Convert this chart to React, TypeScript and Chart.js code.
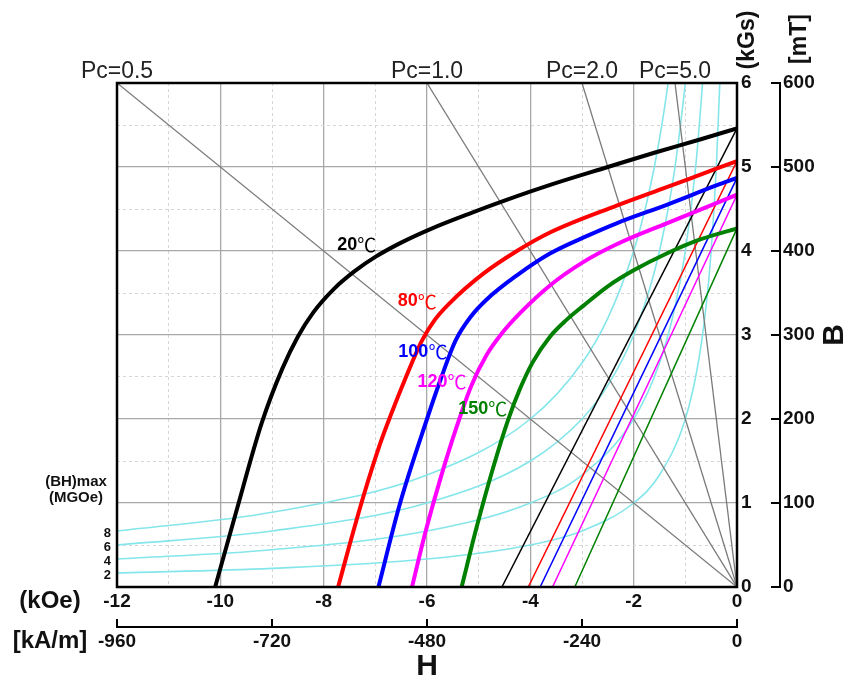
import React, { useEffect, useRef } from 'react';
import { Chart, registerables } from 'chart.js';

Chart.register(...registerables);

// ---------- axes ----------
const H_KOE_MIN = -12;
const H_KOE_MAX = 0;
const H_KOE_STEP = 2;
const H_KAM_MIN = -960;
const H_KAM_MAX = 0;
const H_KAM_STEP = 240;
const B_KGS_MIN = 0;
const B_KGS_MAX = 6;
const B_KGS_STEP = 1;
const B_MT_MIN = 0;
const B_MT_MAX = 600;
const B_MT_STEP = 100;

// ---------- demagnetization curves (H in kOe, B in kGs) ----------
const temps = ['20', '80', '100', '120', '150'];
const curveColors = ['#000000', '#ff0000', '#0000ff', '#ff00ff', '#008000'];

const h20 = [-10.1, -9.7, -9.2, -8.8, -8.5, -8.2, -7.8, -7.4, -7.0, -6.5, -5.9, -5.2, -4.5, -3.6, -2.5, -1.6, -0.7, 0];
const b20 = [0, 0.88, 1.95, 2.6, 2.98, 3.27, 3.55, 3.76, 3.93, 4.1, 4.27, 4.44, 4.6, 4.79, 5.0, 5.17, 5.33, 5.46];

const h80 = [-7.72, -7.49, -7.23, -6.91, -6.68, -6.44, -6.1, -5.85, -5.56, -4.91, -4.26, -3.62, -2.33, -1.36, -0.4, 0];
const b80 = [0, 0.52, 1.08, 1.7, 2.08, 2.45, 2.93, 3.18, 3.38, 3.73, 4.0, 4.22, 4.54, 4.76, 4.98, 5.07];

const h100 = [-6.94, -6.52, -6.0, -5.72, -5.45, -5.15, -4.85, -4.26, -3.62, -2.9, -2.33, -1.36, -0.4, 0];
const b100 = [0, 1.0, 2.0, 2.5, 2.93, 3.22, 3.42, 3.71, 3.97, 4.18, 4.33, 4.55, 4.78, 4.87];

const h120 = [-6.29, -6.04, -5.75, -5.43, -5.14, -4.85, -4.55, -4.2, -3.62, -2.97, -2.33, -1.36, -0.4, 0];
const b120 = [0, 0.63, 1.27, 1.9, 2.4, 2.76, 3.02, 3.26, 3.59, 3.87, 4.08, 4.33, 4.57, 4.67];

const h150 = [-5.33, -5.04, -4.72, -4.43, -4.2, -3.95, -3.62, -3.3, -2.97, -2.5, -2.0, -1.36, -0.7, 0];
const b150 = [0, 0.71, 1.42, 1.99, 2.36, 2.68, 2.98, 3.18, 3.35, 3.58, 3.77, 3.97, 4.14, 4.27];

const curveH = [h20, h80, h100, h120, h150];
const curveB = [b20, b80, b100, b120, b150];

// ---------- recoil lines ----------
const recoilHc = [-4.55, -4.04, -3.81, -3.57, -3.14];
const recoilBr = [5.46, 5.07, 4.87, 4.67, 4.27];

// ---------- permeance coefficient lines (from origin to top edge) ----------
const pcLabels = ['Pc=0.5', 'Pc=1.0', 'Pc=2.0', 'Pc=5.0'];
const pcTopH = [-12, -6, -3, -1.2];
const pcTopB = [6, 6, 6, 6];

// ---------- (BH)max iso-energy curves ----------
const bhLabels = ['2', '4', '6', '8'];
const bh2H = [-12, -9, -6, -4, -3, -2, -1.5, -1, -0.75, -0.6, -0.5, -0.4, -0.333, -0.32];
const bh2B = [0.167, 0.222, 0.333, 0.5, 0.667, 1, 1.333, 2, 2.667, 3.333, 4, 5, 6.0, 6.25];
const bh4H = [-12, -9, -6, -4, -3, -2, -1.5, -1.2, -1, -0.8, -0.667, -0.64];
const bh4B = [0.333, 0.444, 0.667, 1, 1.333, 2, 2.667, 3.333, 4, 5, 6.0, 6.25];
const bh6H = [-12, -9, -6, -4, -3, -2.5, -2, -1.6, -1.333, -1.2, -1, -0.96];
const bh6B = [0.5, 0.667, 1, 1.5, 2, 2.4, 3, 3.75, 4.5, 5, 6, 6.25];
const bh8H = [-12, -9, -6, -4, -3, -2.5, -2, -1.75, -1.6, -1.45, -1.333, -1.28];
const bh8B = [0.667, 0.889, 1.333, 2, 2.667, 3.2, 4, 4.571, 5, 5.517, 6.0, 6.25];
const bhH = [bh2H, bh4H, bh6H, bh8H];
const bhB = [bh2B, bh4B, bh6B, bh8B];

// ---------- temperature label anchors (data coords) ----------
const tempLabelH = [-7.36, -6.19, -6.08, -5.71, -4.92];
const tempLabelB = [4.07, 3.4, 2.8, 2.44, 2.12];

const FONT = "'Liberation Sans', Arial, sans-serif";
const CJK = "'Noto Sans CJK SC', 'DejaVu Sans', sans-serif";
const GRID_MAJOR = '#a8a8a8';
const GRID_MINOR = '#d6d6d6';
const CYAN = '#84e6ea';

function pts(hs: number[], bs: number[]) {
  return hs.map((h, i) => ({ x: h, y: bs[i] }));
}

const overlay = {
  id: 'overlay',
  afterDraw(chart: any) {
    const ctx: CanvasRenderingContext2D = chart.ctx;
    const { x, y, x2, y2 } = chart.scales;
    const a = chart.chartArea;
    ctx.save();

    // plot frame
    ctx.strokeStyle = '#000';
    ctx.lineWidth = 2.5;
    ctx.strokeRect(a.left, a.top, a.right - a.left, a.bottom - a.top);

    // kA/m axis bracket
    ctx.lineWidth = 2;
    const ly = x2.top + 10;
    ctx.beginPath();
    ctx.moveTo(x2.getPixelForValue(H_KAM_MIN), ly);
    ctx.lineTo(x2.getPixelForValue(H_KAM_MAX), ly);
    x2.ticks.forEach((t: any) => {
      const px = x2.getPixelForValue(t.value);
      ctx.moveTo(px, ly + 1);
      ctx.lineTo(px, ly - 8);
    });
    ctx.stroke();

    // mT axis bracket
    const lx = y2.left;
    ctx.beginPath();
    ctx.moveTo(lx, y2.getPixelForValue(B_MT_MIN));
    ctx.lineTo(lx, y2.getPixelForValue(B_MT_MAX));
    y2.ticks.forEach((t: any) => {
      const py = y2.getPixelForValue(t.value);
      ctx.moveTo(lx + 1, py);
      ctx.lineTo(lx - 9, py);
    });
    ctx.stroke();

    const text = (s: string, px: number, py: number, font: string, color: string, align: CanvasTextAlign = 'center', rot = 0, base: CanvasTextBaseline = 'middle') => {
      ctx.save();
      ctx.translate(px, py);
      if (rot) ctx.rotate(rot);
      ctx.font = font;
      ctx.fillStyle = color;
      ctx.textAlign = align;
      ctx.textBaseline = base;
      ctx.fillText(s, 0, 0);
      ctx.restore();
    };

    // Pc labels
    pcLabels.forEach((s, i) => {
      text(s, x.getPixelForValue(pcTopH[i]), a.top - 5, `23px ${FONT}`, '#222', 'center', 0, 'alphabetic');
    });

    // temperature labels
    temps.forEach((t, i) => {
      const cx = x.getPixelForValue(tempLabelH[i]);
      const cy = y.getPixelForValue(tempLabelB[i]);
      ctx.font = `bold 18px ${FONT}`;
      const w1 = ctx.measureText(t).width;
      ctx.font = `19px ${CJK}`;
      const w2 = ctx.measureText('℃').width;
      const x0 = cx - (w1 + w2) / 2;
      text(t, x0, cy, `bold 18px ${FONT}`, curveColors[i], 'left');
      text('℃', x0 + w1, cy, `19px ${CJK}`, curveColors[i], 'left');
    });

    // (BH)max labels
    bhLabels.forEach((s, i) => {
      text(s, a.left - 6, y.getPixelForValue(bhB[i][0]) + 2, `bold 13px ${FONT}`, '#111', 'right');
    });
    text('(BH)max', a.left - 41, 482, `bold 15px ${FONT}`, '#111');
    text('(MGOe)', a.left - 41, 498, `bold 15px ${FONT}`, '#111');

    // axis titles
    text('(kOe)', 50, a.bottom + 14, `bold 24px ${FONT}`, '#111');
    text('[kA/m]', 50, x2.top + 24, `bold 24px ${FONT}`, '#111');
    text('H', (a.left + a.right) / 2, 667, `bold 30px ${FONT}`, '#111');
    text('B', 835, (a.top + a.bottom) / 2, `bold 30px ${FONT}`, '#111', 'center', -Math.PI / 2);
    text('(kGs)', 748, 40, `bold 23px ${FONT}`, '#111', 'center', -Math.PI / 2);
    text('[mT]', 800, 39, `bold 23px ${FONT}`, '#111', 'center', -Math.PI / 2);

    ctx.restore();
  },
};

export default function App() {
  const ref = useRef<HTMLCanvasElement | null>(null);

  useEffect(() => {
    if (!ref.current) return;
    const datasets: any[] = [];

    curveH.forEach((hs, i) => {
      datasets.push({
        label: temps[i] + '℃',
        data: pts(hs, curveB[i]),
        borderColor: curveColors[i],
        borderWidth: 4,
        cubicInterpolationMode: 'monotone',
        pointRadius: 0,
        fill: false,
      });
    });
    recoilHc.forEach((hc, i) => {
      datasets.push({
        label: 'recoil ' + temps[i],
        data: pts([hc, 0], [0, recoilBr[i]]),
        borderColor: curveColors[i],
        borderWidth: 1.5,
        tension: 0,
        pointRadius: 0,
        fill: false,
      });
    });
    pcTopH.forEach((h, i) => {
      datasets.push({
        label: pcLabels[i],
        data: pts([h, 0], [pcTopB[i], 0]),
        borderColor: '#7a7a7a',
        borderWidth: 1.3,
        tension: 0,
        pointRadius: 0,
        fill: false,
      });
    });
    bhH.forEach((hs, i) => {
      datasets.push({
        label: 'BH ' + bhLabels[i],
        data: pts(hs, bhB[i]),
        borderColor: CYAN,
        borderWidth: 1.6,
        cubicInterpolationMode: 'monotone',
        pointRadius: 0,
        fill: false,
      });
    });

    const tickFont = { family: FONT, size: 19, weight: 'bold' as const };

    const chart = new Chart(ref.current, {
      type: 'line',
      data: { datasets },
      options: {
        animation: false,
        responsive: false,
        devicePixelRatio: 1,
        layout: { padding: { left: 117, top: 83, right: 0, bottom: 0 } },
        plugins: { legend: { display: false }, tooltip: { enabled: false } },
        scales: {
          x: {
            type: 'linear',
            position: 'bottom',
            min: H_KOE_MIN,
            max: H_KOE_MAX,
            weight: 0,
            ticks: { stepSize: H_KOE_STEP, autoSkip: false, maxRotation: 0, padding: 3, color: '#111', font: tickFont },
            grid: { color: GRID_MAJOR, lineWidth: 1.3, drawTicks: false },
            border: { display: false },
            afterFit: (s: any) => { s.height = 30; },
          },
          x2: {
            type: 'linear',
            position: 'bottom',
            min: H_KAM_MIN,
            max: H_KAM_MAX,
            weight: 1,
            ticks: { stepSize: H_KAM_STEP, autoSkip: false, maxRotation: 0, padding: 13, color: '#111', font: tickFont },
            grid: { display: false, drawTicks: false },
            border: { display: false },
            afterFit: (s: any) => { s.height = 62; },
          },
          xMinor: {
            type: 'linear',
            position: 'bottom',
            min: H_KOE_MIN,
            max: H_KOE_MAX,
            weight: 2,
            ticks: { stepSize: 1, display: false, autoSkip: false },
            grid: {
              drawTicks: false,
              lineWidth: 1,
              color: (c: any) => (c.tick && c.tick.value % 2 === 0 ? 'rgba(0,0,0,0)' : GRID_MINOR),
            },
            border: { display: false, dash: [3, 3] },
            afterFit: (s: any) => { s.height = 0; },
          },
          y: {
            type: 'linear',
            position: 'right',
            min: B_KGS_MIN,
            max: B_KGS_MAX,
            weight: 0,
            ticks: { stepSize: B_KGS_STEP, autoSkip: false, padding: 4, color: '#111', font: tickFont },
            grid: { color: GRID_MAJOR, lineWidth: 1.3, drawTicks: false },
            border: { display: false },
            afterFit: (s: any) => { s.width = 43; },
          },
          y2: {
            type: 'linear',
            position: 'right',
            min: B_MT_MIN,
            max: B_MT_MAX,
            weight: 1,
            ticks: { stepSize: B_MT_STEP, autoSkip: false, padding: 3, color: '#111', font: tickFont },
            grid: { display: false, drawTicks: false },
            border: { display: false },
            afterFit: (s: any) => { s.width = 68; },
          },
          yMinor: {
            type: 'linear',
            position: 'right',
            min: B_KGS_MIN,
            max: B_KGS_MAX,
            weight: 2,
            ticks: { stepSize: 0.5, display: false, autoSkip: false },
            grid: {
              drawTicks: false,
              lineWidth: 1,
              color: (c: any) => (c.tick && Number.isInteger(c.tick.value) ? 'rgba(0,0,0,0)' : GRID_MINOR),
            },
            border: { display: false, dash: [3, 3] },
            afterFit: (s: any) => { s.width = 0; },
          },
        },
      } as any,
      plugins: [overlay],
    });
    return () => chart.destroy();
  }, []);

  return (
    <div style={{ position: 'absolute', left: 0, top: 0, width: 848, height: 679, background: '#fff' }}>
      <canvas ref={ref} width={848} height={679} style={{ width: 848, height: 679, display: 'block' }} />
    </div>
  );
}
